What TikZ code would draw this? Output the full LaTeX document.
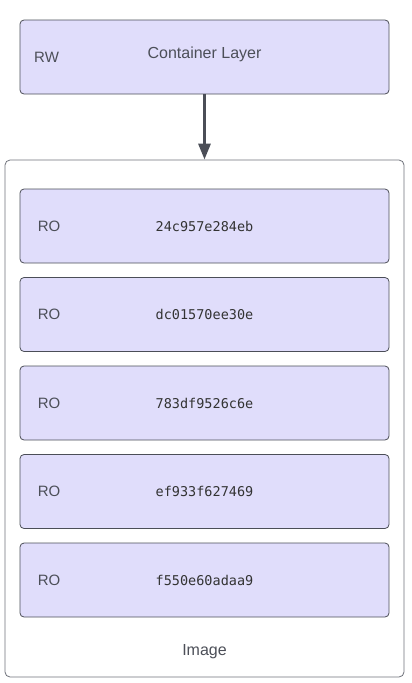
\documentclass[tikz,border=0pt]{standalone}
\usepackage{fontspec}
\setmainfont{Liberation Sans}
\setmonofont{DejaVu Sans Mono}
\usetikzlibrary{calc,arrows.meta}
\definecolor{layerfill}{HTML}{E0DDFB}
\definecolor{layerline}{HTML}{4B4E57}
\definecolor{textgrey}{HTML}{4C4F58}
\definecolor{frameline}{HTML}{6E717A}
\tikzset{
	layer/.style={draw=layerline, fill=layerfill, line width=0.8pt, rounded corners=4pt, minimum width=369pt, minimum height=74pt, inner sep=0pt},
	frame/.style={draw=frameline, line width=0.8pt, rounded corners=5pt, minimum width=399pt, minimum height=517pt, inner sep=0pt},
	tag/.style={text=textgrey, font=\fontsize{15}{18}\selectfont, anchor=west, inner sep=0pt},
	title/.style={text=textgrey, font=\fontsize{16}{19}\selectfont, inner sep=0pt},
	hashtxt/.style={text=black!80, font=\ttfamily\fontsize{13.5}{16}\selectfont, inner sep=0pt}
}
\begin{document}
\begin{tikzpicture}[x=1pt, y=-1pt]
			%%%%% START %%%%%
			\useasboundingbox (0, 0) rectangle (412, 683);
			
			% read-write layer on top
			\node[layer] (rw) at (204.5, 57) {};
			\node[tag] (rwtag) at (34, 57) {RW};
			\node[title] (rwtitle) at (204.5, 54) {Container Layer};
			
			% image frame with read-only layers
			\node[frame] (image) at (204.5, 418.5) {};
			\node[title] (imagetitle) at (204.5, 652) {Image};
			
			\foreach \hash [count=\i] in {24c957e284eb, dc01570ee30e, 783df9526c6e, ef933f627469, f550e60adaa9}
			{
				\node[layer] (ro\i) at (204.5, {226 + (\i-1)*88.5}) {};
				\node[tag] (rotag\i) at ($(ro\i.west) + (18, 0)$) {RO};
				\node[hashtxt] (hash\i) at (ro\i.center) {\hash};
			}
			
			\draw[line width=3pt, color=layerline, -{Triangle[width=12pt, length=16pt]}] (rw.south) -- (image.north);
			%%%%% END %%%%%
\end{tikzpicture}
\end{document}
